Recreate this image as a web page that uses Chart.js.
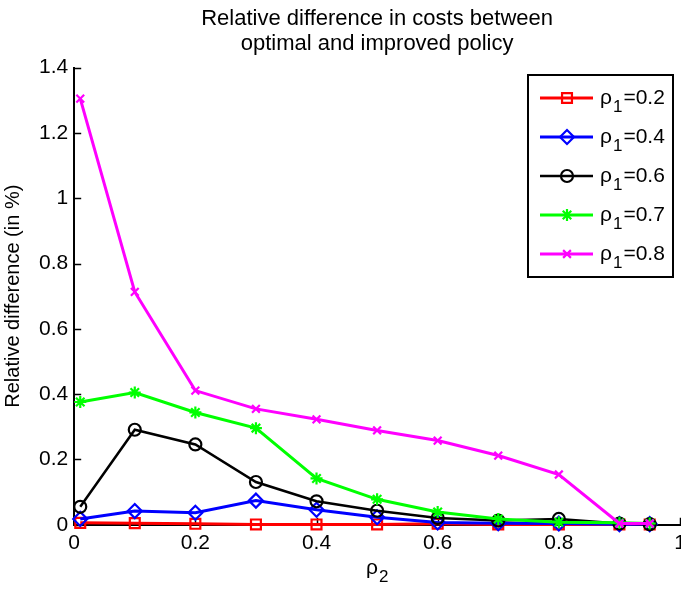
<!DOCTYPE html>
<html>
<head>
<meta charset="utf-8">
<script src="https://cdn.jsdelivr.net/npm/chart.js@4.4.0/dist/chart.umd.min.js"></script>
<style>
  html, body { margin: 0; padding: 0; background: #fff; overflow: hidden; }
  #wrap { position: absolute; left: 0; top: 0; width: 700px; height: 589px; }
</style>
</head>
<body>
<div id="wrap"><canvas id="costChart"></canvas></div>
<script>
// rho_2 values on the x axis
const rho2 = [0.01, 0.1, 0.2, 0.3, 0.4, 0.5, 0.6, 0.7, 0.8, 0.9, 0.95];

// relative cost difference (in %) for each rho_1
const rho1 = [0.2, 0.4, 0.6, 0.7, 0.8];
const diff02 = [0.006, 0.005, 0.003, 0.001, 0.001, 0.001, 0.003, 0.001, 0.001, 0.001, 0.001];
const diff04 = [0.018, 0.042, 0.037, 0.074, 0.046, 0.023, 0.007, 0.005, 0.004, 0.002, 0.002];
const diff06 = [0.055, 0.291, 0.246, 0.131, 0.072, 0.043, 0.021, 0.013, 0.018, 0.004, 0.002];
const diff07 = [0.376, 0.405, 0.344, 0.296, 0.142, 0.078, 0.039, 0.018, 0.008, 0.006, 0.004];
const diff08 = [1.305, 0.713, 0.411, 0.355, 0.323, 0.289, 0.258, 0.212, 0.154, 0.004, 0.004];

const xTicks = [0, 0.2, 0.4, 0.6, 0.8, 1];
const yTicks = [0, 0.2, 0.4, 0.6, 0.8, 1, 1.2, 1.4];

const FONT = "'Liberation Sans', Arial, Helvetica, sans-serif";

const seriesStyle = [
  { data: diff02, color: '#ff0000', style: 'rect',     radius: 7, width: 3 },
  { data: diff04, color: '#0000ff', style: 'rectRot',  radius: 7, width: 3 },
  { data: diff06, color: '#000000', style: 'circle',   radius: 6, width: 2.5 },
  { data: diff07, color: '#00ff00', style: 'star',     radius: 6, width: 3 },
  { data: diff08, color: '#ff00ff', style: 'crossRot', radius: 5.5, width: 3 }
];

const datasets = seriesStyle.map((s, i) => ({
  label: 'ρ1=' + rho1[i],
  data: rho2.map((x, j) => ({ x: x, y: s.data[j] })),
  borderColor: s.color,
  borderWidth: s.width,
  pointStyle: s.style,
  pointRadius: s.radius,
  pointHoverRadius: s.radius,
  pointBorderColor: s.color,
  pointBackgroundColor: 'rgba(0,0,0,0)',
  pointBorderWidth: 2.2,
  tension: 0,
  clip: false,
  order: seriesStyle.length - i
}));

// text like "ρ1=0.2" with the 1 lowered as a subscript
function drawSubText(ctx, x, y, base, sub, rest, size) {
  ctx.font = size + 'px ' + FONT;
  ctx.textBaseline = 'middle';
  ctx.textAlign = 'left';
  ctx.fillText(base, x, y);
  x += ctx.measureText(base).width;
  const subSize = Math.round(size * 0.8);
  ctx.font = subSize + 'px ' + FONT;
  ctx.fillText(sub, x + 1, y + size * 0.45);
  x += ctx.measureText(sub).width + 1;
  ctx.font = size + 'px ' + FONT;
  ctx.fillText(rest, x + 1, y);
}

const matlabAxes = {
  id: 'matlabAxes',
  beforeDatasetsDraw(chart) {
    const { ctx, chartArea, scales } = chart;
    ctx.save();
    ctx.strokeStyle = '#000';
    ctx.lineWidth = 1.5;
    ctx.beginPath();
    scales.y.ticks.forEach(t => {
      const py = Math.round(scales.y.getPixelForValue(t.value)) + 0.5;
      ctx.moveTo(chartArea.left, py);
      ctx.lineTo(chartArea.left + 7, py);
    });
    scales.x.ticks.forEach(t => {
      const px = Math.round(scales.x.getPixelForValue(t.value)) + 0.5;
      ctx.moveTo(px, chartArea.bottom);
      ctx.lineTo(px, chartArea.bottom - 7);
    });
    ctx.stroke();
    ctx.restore();
  },
  afterDraw(chart) {
    const { ctx, chartArea } = chart;
    ctx.save();
    ctx.fillStyle = '#000';
    // x axis title
    drawSubText(ctx, (chartArea.left + chartArea.right) / 2 - 11, 568, 'ρ', '2', '', 21);

    // legend box
    const bx = 528, by = 75, bw = 145, bh = 202;
    ctx.fillStyle = '#fff';
    ctx.fillRect(bx, by, bw, bh);
    ctx.strokeStyle = '#000';
    ctx.lineWidth = 2;
    ctx.strokeRect(bx, by, bw, bh);

    chart.data.datasets.forEach((ds, i) => {
      const cy = by + 23 + i * 39;
      ctx.strokeStyle = ds.borderColor;
      ctx.lineWidth = ds.borderWidth;
      ctx.beginPath();
      ctx.moveTo(bx + 12, cy);
      ctx.lineTo(bx + 65, cy);
      ctx.stroke();
      ctx.fillStyle = 'rgba(0,0,0,0)';
      ctx.lineWidth = 2.2;
      Chart.helpers.drawPoint(ctx, {
        pointStyle: ds.pointStyle,
        radius: ds.pointRadius,
        rotation: 0,
        borderWidth: 2.2
      }, bx + 39, cy);
      ctx.fillStyle = '#000';
      drawSubText(ctx, bx + 72, cy, 'ρ', '1', '=' + rho1[i], 21);
    });
    ctx.restore();
  }
};

const fmt = v => String(+v.toFixed(1));

new Chart(document.getElementById('costChart'), {
  type: 'line',
  data: { datasets: datasets },
  options: {
    responsive: true,
    maintainAspectRatio: false,
    animation: false,
    events: [],
    layout: { padding: { left: 1, right: 20, top: 0, bottom: 27 } },
    plugins: {
      legend: { display: false },
      tooltip: { enabled: false },
      title: {
        display: true,
        fullSize: false,
        text: ['Relative difference in costs between', 'optimal and improved policy'],
        color: '#000',
        font: { family: FONT, size: 22, weight: 'normal', lineHeight: 1.15 },
        padding: { top: 6, bottom: 11 }
      }
    },
    scales: {
      x: {
        type: 'linear',
        min: 0,
        max: 1,
        afterBuildTicks: axis => { axis.ticks = xTicks.map(v => ({ value: v })); },
        ticks: {
          color: '#000',
          font: { family: FONT, size: 21 },
          padding: 6,
          maxRotation: 0,
          autoSkip: false,
          callback: fmt
        },
        grid: { display: false, drawTicks: false },
        border: { display: true, color: '#000', width: 2 }
      },
      y: {
        type: 'linear',
        min: 0,
        max: 1.4,
        afterBuildTicks: axis => { axis.ticks = yTicks.map(v => ({ value: v })); },
        ticks: {
          color: '#000',
          font: { family: FONT, size: 21 },
          padding: 6,
          callback: fmt
        },
        grid: { display: false, drawTicks: false },
        border: { display: true, color: '#000', width: 2 },
        title: {
          display: true,
          text: 'Relative difference (in %)',
          color: '#000',
          font: { family: FONT, size: 20 },
          padding: { top: 0, bottom: 8 }
        }
      }
    }
  },
  plugins: [matlabAxes]
});
</script>
</body>
</html>
